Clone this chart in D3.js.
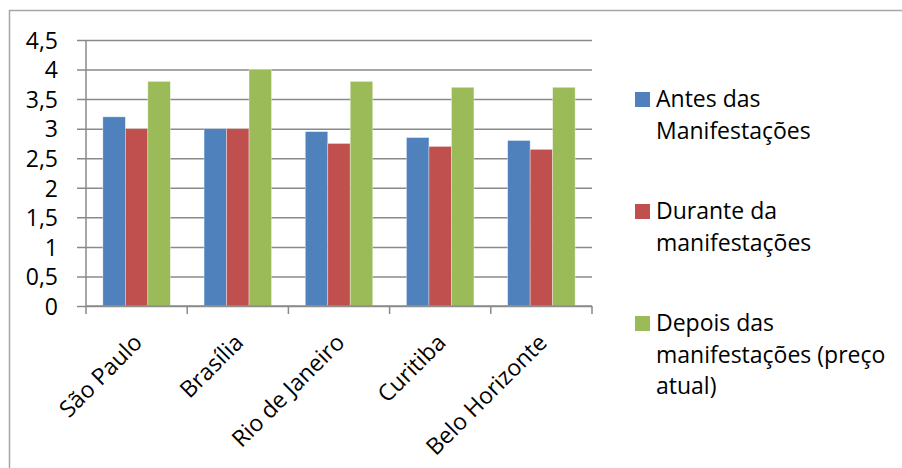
<!DOCTYPE html>
<html>
<head>
<meta charset="utf-8">
<script src="https://cdn.jsdelivr.net/npm/d3@7"></script>
<style>
  body { margin: 0; background: #fff; }
  text { font-family: "Open Sans", "Noto Sans", sans-serif; fill: #000; }
</style>
</head>
<body>
<div class="chart"></div>
<script>
var cidades = ["São Paulo", "Brasília", "Rio de Janeiro", "Curitiba", "Belo Horizonte"];
var antes = [3.2, 3.0, 2.95, 2.85, 2.8];
var durante = [3.0, 3.0, 2.75, 2.7, 2.65];
var depois = [3.8, 4.0, 3.8, 3.7, 3.7];
var yTicks = [0, 0.5, 1, 1.5, 2, 2.5, 3, 3.5, 4, 4.5];
var seriesNames = [
  ["Antes das", "Manifestações"],
  ["Durante da", "manifestações"],
  ["Depois das", "manifestações (preço", "atual)"]
];
var cores = ["#4F81BD", "#C0504D", "#9BBB59"];

var width = 902,
    height = 468;
var mLeft = 86, mRight = 592, mTop = 40, mBottom = 306;
var fonte = "23px";

var svg = d3.select(".chart").append("svg")
    .attr("width", width)
    .attr("height", height);

// moldura do gráfico
svg.append("rect")
    .attr("x", 9.5).attr("y", 10.5)
    .attr("width", 900).attr("height", 470)
    .attr("fill", "none")
    .attr("stroke", "#a6a6a6")
    .attr("stroke-width", 1.5);

var x = d3.scaleBand()
    .domain(cidades)
    .range([mLeft, mRight])
    .paddingInner(0)
    .paddingOuter(0);

var y = d3.scaleLinear()
    .domain([0, 4.5])
    .range([mBottom, mTop]);

var series = [antes, durante, depois];
var barW = x.bandwidth() / 4.5;
var gap = (x.bandwidth() - 3 * barW) / 2;

// linhas de grade + eixo y
var yAxis = d3.axisLeft(y)
    .tickValues(yTicks)
    .tickSize(-(mRight - mLeft))
    .tickFormat(function(d){ return String(d).replace(".", ","); });

var gy = svg.append("g")
    .attr("transform", "translate(" + mLeft + ",0)")
    .call(yAxis);
gy.select(".domain").remove();
gy.selectAll(".tick line")
    .attr("x1", -9)
    .attr("stroke", "#8a8a8a")
    .attr("stroke-width", 1.5);
gy.selectAll(".tick text")
    .attr("x", -28)
    .attr("dy", "0.36em")
    .style("font-size", fonte)
    .style("font-family", "'Open Sans', sans-serif");

// barras
series.forEach(function(vals, s){
  svg.append("g")
      .selectAll("rect")
      .data(vals)
      .enter()
      .append("rect")
      .attr("x", function(d, i){ return x(cidades[i]) + gap + s * barW; })
      .attr("y", function(d){ return y(d); })
      .attr("width", barW)
      .attr("height", function(d){ return y(0) - y(d); })
      .attr("fill", cores[s])
      .attr("stroke", "rgba(255,255,255,0.5)")
      .attr("stroke-width", 0.7);
});

// eixo y (linha)
svg.append("line")
    .attr("x1", mLeft).attr("x2", mLeft)
    .attr("y1", mTop).attr("y2", mBottom)
    .attr("stroke", "#8a8a8a")
    .attr("stroke-width", 1.5);

// eixo x
var gx = svg.append("g")
    .attr("transform", "translate(0," + mBottom + ")");
gx.append("line")
    .attr("x1", mLeft).attr("x2", mRight)
    .attr("stroke", "#8a8a8a")
    .attr("stroke-width", 1.5);
gx.selectAll(".tk")
    .data(d3.range(cidades.length + 1))
    .enter()
    .append("line")
    .attr("x1", function(d){ return mLeft + d * x.step(); })
    .attr("x2", function(d){ return mLeft + d * x.step(); })
    .attr("y1", 0).attr("y2", 8)
    .attr("stroke", "#8a8a8a")
    .attr("stroke-width", 1.5);

gx.selectAll(".lbl")
    .data(cidades)
    .enter()
    .append("text")
    .attr("text-anchor", "end")
    .attr("transform", function(d){
      return "translate(" + (x(d) + x.bandwidth() / 2 + 7) + ",38) rotate(-45)";
    })
    .style("font-size", fonte)
    .text(function(d){ return d; });

// legenda
var legendTops = [92, 204, 316];
seriesNames.forEach(function(lines, s){
  var g = svg.append("g")
      .attr("transform", "translate(635," + legendTops[s] + ")");
  g.append("rect")
      .attr("width", 15).attr("height", 15)
      .attr("fill", cores[s]);
  g.selectAll("text")
      .data(lines)
      .enter()
      .append("text")
      .attr("x", 21)
      .attr("y", function(d, i){ return 15 + i * 31.5; })
      .style("font-size", fonte)
      .text(function(d){ return d; });
});
</script>
</body>
</html>
